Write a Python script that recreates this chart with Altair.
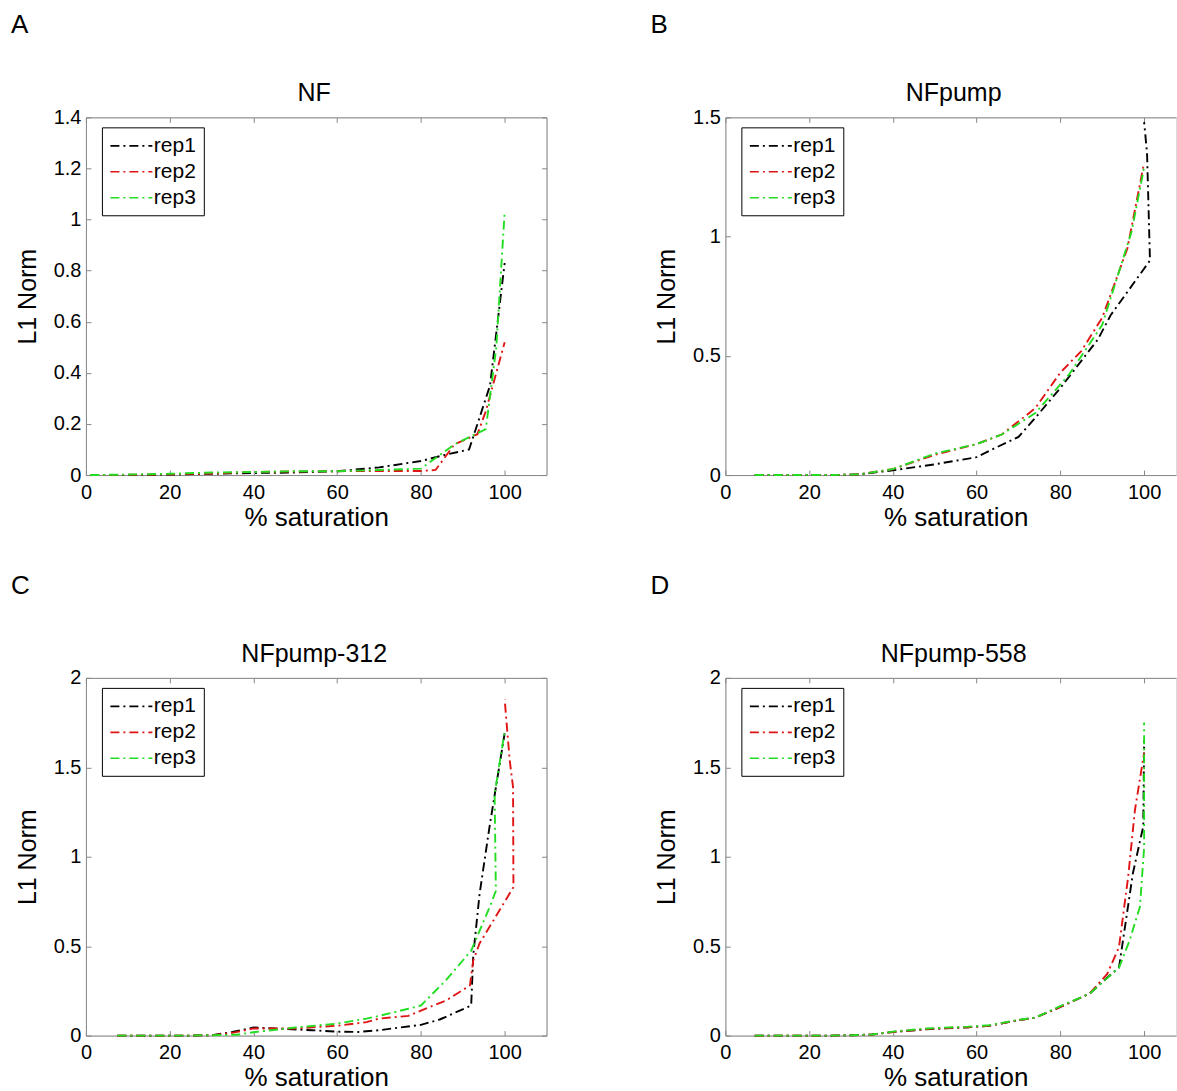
import altair as alt
import pandas as pd

# ---------------- data ----------------
REPS = ["rep1", "rep2", "rep3"]
COLORS = ["#000000", "#e01414", "#22dd22"]
X_TICKS = [0, 20, 40, 60, 80, 100]

# Panel A : NF
NF_rep1_x = [1, 10, 20, 30, 40, 50, 60, 70, 80, 86, 91.5, 96.5, 100]
NF_rep1_y = [0, 0, 0.002, 0.005, 0.008, 0.01, 0.015, 0.03, 0.055, 0.08, 0.1, 0.35, 0.83]
NF_rep2_x = [1, 10, 20, 30, 40, 50, 60, 70, 80, 83.5, 88, 93.5, 95.5, 100]
NF_rep2_y = [0, 0.001, 0.003, 0.006, 0.012, 0.014, 0.015, 0.016, 0.016, 0.02, 0.12, 0.16, 0.25, 0.52]
NF_rep3_x = [1, 10, 20, 30, 40, 50, 60, 70, 80, 88, 95.5, 98, 100]
NF_rep3_y = [0, 0.002, 0.005, 0.01, 0.012, 0.015, 0.015, 0.02, 0.025, 0.12, 0.18, 0.5, 1.03]
NF_y_ticks = [0, 0.2, 0.4, 0.6, 0.8, 1, 1.2, 1.4]

# Panel B : NFpump
NFp_rep1_x = [7, 15, 25, 32, 40, 50, 60, 64, 70, 74, 80, 89, 92, 101.4, 100.7, 100]
NFp_rep1_y = [0, 0, 0, 0.003, 0.02, 0.045, 0.075, 0.11, 0.16, 0.24, 0.365, 0.57, 0.67, 0.9, 1.35, 1.48]
NFp_rep2_x = [7, 15, 25, 32, 40, 50, 60, 66, 74, 80, 85, 90, 96, 100]
NFp_rep2_y = [0, 0, 0, 0.003, 0.025, 0.085, 0.13, 0.17, 0.28, 0.43, 0.52, 0.66, 0.95, 1.31]
NFp_rep3_x = [7, 15, 25, 32, 40, 50, 60, 66, 74, 82, 90, 97, 100]
NFp_rep3_y = [0, 0, 0, 0.003, 0.025, 0.09, 0.13, 0.17, 0.26, 0.42, 0.63, 1.02, 1.29]
NFp_y_ticks = [0, 0.5, 1, 1.5]

# Panel C : NFpump-312
N312_rep1_x = [7.5, 15, 25, 30, 35, 40, 45, 54, 60, 65, 70, 80, 84.5, 92, 92.5, 94, 96.4, 100]
N312_rep1_y = [0, 0, 0, 0.002, 0.02, 0.045, 0.04, 0.03, 0.022, 0.02, 0.03, 0.06, 0.09, 0.168, 0.45, 0.79, 1.17, 1.69]
N312_rep2_x = [7.5, 15, 25, 30, 35, 40, 50, 60, 67, 70, 77, 80, 86, 91.7, 92.5, 94, 102.1, 102, 101.2, 100]
N312_rep2_y = [0, 0, 0, 0.002, 0.015, 0.04, 0.04, 0.055, 0.075, 0.095, 0.11, 0.14, 0.196, 0.28, 0.42, 0.515, 0.83, 1.39, 1.54, 1.88]
N312_rep3_x = [7.5, 15, 25, 30, 36, 40.5, 50, 60, 67, 70, 77, 80, 86, 92, 96.8, 97.9, 97.6, 100]
N312_rep3_y = [0, 0, 0, 0.002, 0.005, 0.02, 0.045, 0.067, 0.095, 0.11, 0.15, 0.168, 0.31, 0.475, 0.74, 0.81, 1.35, 1.7]
N312_y_ticks = [0, 0.5, 1, 1.5, 2]

# Panel D : NFpump-558
N558_rep1_x = [7, 15, 25, 30, 35, 40, 48, 58, 63, 70.5, 74, 80, 87, 91.5, 94, 94.5, 97.3, 99.8, 100]
N558_rep1_y = [0, 0, 0, 0.002, 0.006, 0.02, 0.035, 0.047, 0.055, 0.088, 0.1, 0.16, 0.235, 0.33, 0.38, 0.46, 0.905, 1.17, 1.65]
N558_rep2_x = [7, 15, 25, 30, 35, 40, 48, 58, 63, 70.5, 74, 80, 87, 91.2, 94, 96.2, 97.8, 100]
N558_rep2_y = [0, 0, 0, 0.002, 0.006, 0.02, 0.037, 0.047, 0.055, 0.088, 0.1, 0.16, 0.235, 0.345, 0.495, 0.89, 1.26, 1.58]
N558_rep3_x = [7, 15, 25, 30, 35, 40, 48, 58, 63, 70.5, 74, 80, 87, 94, 96.5, 99, 100, 100]
N558_rep3_y = [0, 0, 0, 0.002, 0.006, 0.022, 0.04, 0.05, 0.058, 0.09, 0.1, 0.165, 0.235, 0.38, 0.53, 0.72, 1.05, 1.75]
N558_y_ticks = [0, 0.5, 1, 1.5, 2]

# ---------------- layout ----------------
W, H = 461, 358            # full panel plot area (x axis 0..110)
W_RIGHT = 451              # right-hand panels are cut by the page edge
FONT = "Liberation Sans"
DASH = [9, 4, 2, 4]

PANELS = [
    ("A", "NF", 1.4, NF_y_ticks, [(NF_rep1_x, NF_rep1_y), (NF_rep2_x, NF_rep2_y), (NF_rep3_x, NF_rep3_y)], False),
    ("B", "NFpump", 1.5, NFp_y_ticks, [(NFp_rep1_x, NFp_rep1_y), (NFp_rep2_x, NFp_rep2_y), (NFp_rep3_x, NFp_rep3_y)], True),
    ("C", "NFpump-312", 2.0, N312_y_ticks, [(N312_rep1_x, N312_rep1_y), (N312_rep2_x, N312_rep2_y), (N312_rep3_x, N312_rep3_y)], False),
    ("D", "NFpump-558", 2.0, N558_y_ticks, [(N558_rep1_x, N558_rep1_y), (N558_rep2_x, N558_rep2_y), (N558_rep3_x, N558_rep3_y)], True),
]


def make_panel(letter, title, ymax, yticks, series, cut):
    rows = []
    for rep, (xs, ys) in zip(REPS, series):
        for i, (xv, yv) in enumerate(zip(xs, ys)):
            rows.append({"x": xv, "y": yv, "rep": rep, "i": i})
    df = pd.DataFrame(rows)
    width = W_RIGHT if cut else W
    xmax = 110 * width / W
    xscale = alt.Scale(domain=[0, xmax], nice=False, zero=False)
    yscale = alt.Scale(domain=[0, ymax], nice=False, zero=False)

    lines = alt.Chart(df).mark_line(strokeWidth=1.9, strokeDash=DASH, clip=False).encode(
        x=alt.X("x:Q", scale=xscale,
                axis=alt.Axis(orient="bottom", values=X_TICKS, title="% saturation",
                              ticks=False, tickSize=0, labelPadding=7, titlePadding=2,
                              labelFlush=False, titleX=W / 2, titleAnchor="middle",
                              labelFontSize=20, titleFontSize=26, titleFontWeight="normal",
                              grid=False)),
        y=alt.Y("y:Q", scale=yscale,
                axis=alt.Axis(orient="left", values=yticks, title="L1 Norm", format="~g",
                              ticks=False, tickSize=0, labelPadding=5, titlePadding=13,
                              labelFontSize=20, titleFontSize=25, titleFontWeight="normal",
                              grid=False)),
        color=alt.Color("rep:N", scale=alt.Scale(domain=REPS, range=COLORS),
                        legend=alt.Legend(orient="none", legendX=16, legendY=10, title=None,
                                          strokeColor="black", fillColor="white", padding=7,
                                          symbolType="M-2,0H2", symbolSize=441,
                                          symbolStrokeWidth=1.6, symbolDash=DASH,
                                          symbolOffset=11, labelOffset=11,
                                          labelFontSize=21, rowPadding=4,
                                          labelFont=FONT, labelColor="black")),
        order="i:Q",
    )

    # inward ticks on bottom / left edges
    ticks1 = alt.Chart(df).mark_point(opacity=0).encode(
        x=alt.X("x:Q", scale=xscale,
                axis=alt.Axis(orient="top", offset=-H, values=X_TICKS, labels=False, domain=False,
                              ticks=True, tickSize=5, title=None, grid=False)),
        y=alt.Y("y:Q", scale=yscale,
                axis=alt.Axis(orient="right", offset=-width, values=yticks, labels=False, domain=False,
                              ticks=True, tickSize=5, title=None, grid=False)),
    )
    # top border (and right border unless cut by the page edge) with inward ticks
    if cut:
        yaxis2 = alt.Axis(orient="left", offset=-width, values=yticks, labels=False, domain=False,
                          ticks=False, title=None, grid=False)
    else:
        yaxis2 = alt.Axis(orient="left", offset=-width, values=yticks, labels=False, domain=True,
                          ticks=True, tickSize=5, title=None, grid=False)
    ticks2 = alt.Chart(df).mark_point(opacity=0).encode(
        x=alt.X("x:Q", scale=xscale,
                axis=alt.Axis(orient="bottom", offset=-H, values=X_TICKS, labels=False, domain=True,
                              ticks=True, tickSize=5, title=None, grid=False)),
        y=alt.Y("y:Q", scale=yscale, axis=yaxis2),
    )

    letter_mark = alt.Chart(pd.DataFrame({"t": [letter]})).mark_text(
        align="left", baseline="alphabetic", fontSize=26, font=FONT, color="black"
    ).encode(text="t:N", x=alt.value(-75), y=alt.value(-84))

    title_mark = alt.Chart(pd.DataFrame({"t": [title]})).mark_text(
        align="center", baseline="alphabetic", fontSize=25, font=FONT, color="black"
    ).encode(text="t:N", x=alt.value(W / 2 - 2), y=alt.value(-16))

    return alt.layer(lines, ticks1, ticks2, letter_mark, title_mark).resolve_axis(
        x="independent", y="independent"
    ).properties(width=width, height=H)


panels = [make_panel(*p) for p in PANELS]

chart = alt.concat(*panels, columns=2, spacing={"row": 203, "column": 179}, bounds="flush").resolve_legend(
    color="independent"
).properties(
    padding={"left": 10, "top": 11, "right": 0, "bottom": 0}
).configure_view(
    stroke="transparent"
).configure_axis(
    labelFont=FONT, titleFont=FONT, labelColor="black", titleColor="black",
    titleFontWeight="normal", domainColor="black", tickColor="black", domainWidth=1, tickWidth=1
).configure(background="white")

chart.save("out.html", embed_options={"renderer": "svg", "actions": False})
